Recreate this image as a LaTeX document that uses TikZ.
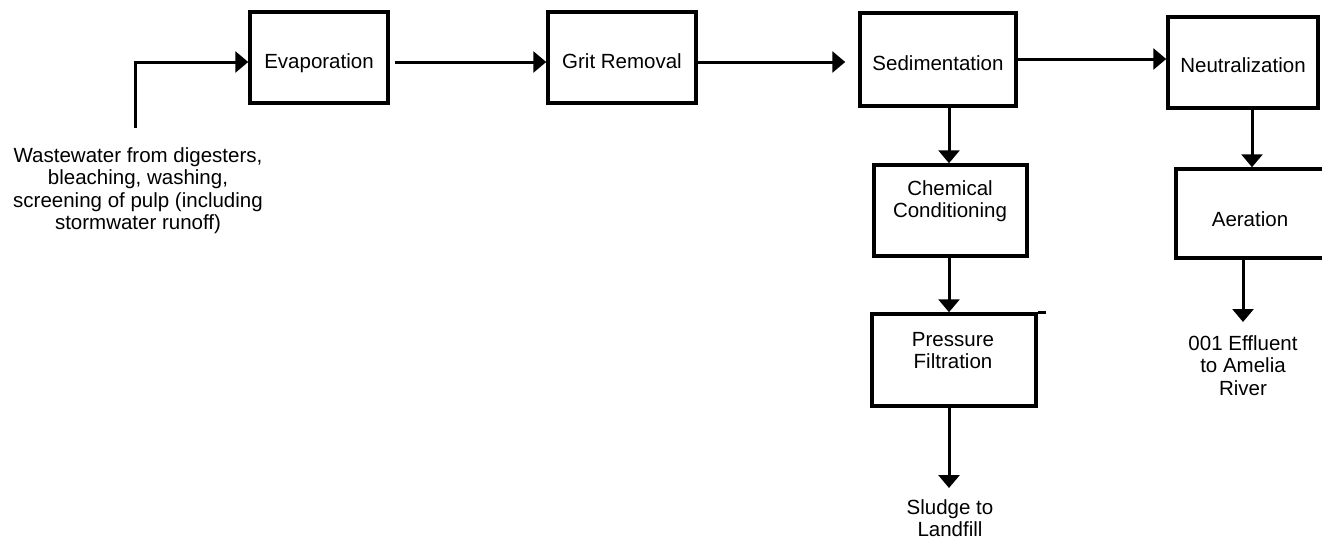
\documentclass[tikz,border=0pt]{standalone}
\usepackage{fontspec}
\setmainfont{Liberation Sans}
\usetikzlibrary{arrows.meta}
\begin{document}
\begin{tikzpicture}[x=1pt,y=-1pt,
  box/.style={draw, line width=3.5pt, rectangle, inner sep=0pt},
  lbl/.style={font=\fontsize{20.5}{22.5}\selectfont, inner sep=0pt, align=center},
  flow/.style={line width=3pt, -{Triangle[length=13pt,width=21pt]}},
]
\useasboundingbox (0,0) rectangle (1322,541);

% process boxes
\node[box, minimum width=138pt, minimum height=91pt] (evap)  at (319,57.5)  {};
\node[box, minimum width=148pt, minimum height=91pt] (grit)  at (622,57.5)  {};
\node[box, minimum width=156pt, minimum height=93pt] (sed)   at (938,59.5)  {};
\node[box, minimum width=150pt, minimum height=91pt] (neut)  at (1243,62.5) {};
\node[box, minimum width=153pt, minimum height=91pt] (chem)  at (950.5,210.5) {};
\node[box, minimum width=164pt, minimum height=89pt] (aer)   at (1258,213.5) {};
\node[box, minimum width=164pt, minimum height=92pt] (press) at (954,360)   {};
\draw[line width=3.5pt] (press.north east) -- ++(8,0);

% box captions
\node[lbl, anchor=base]  (evapT)  at (319,68)  {Evaporation};
\node[lbl, anchor=base]  (gritT)  at (622,68)  {Grit Removal};
\node[lbl, anchor=base]  (sedT)   at (938,70)  {Sedimentation};
\node[lbl, anchor=base]  (neutT)  at (1243,72) {Neutralization};
\node[lbl, anchor=north] (chemT)  at (950,180) {Chemical\\Conditioning};
\node[lbl, anchor=base]  (aerT)   at (1250,226) {Aeration};
\node[lbl, anchor=north] (pressT) at (953,332) {Pressure\\Filtration};

% inflow and outflow texts
\node[lbl, anchor=north] (inflow) at (138,147)
  {Wastewater from digesters,\\bleaching, washing,\\screening of pulp (including\\stormwater runoff)};
\node[lbl, anchor=north] (sludge) at (950,499) {Sludge to\\Landfill};
\node[lbl, anchor=north] (eff)    at (1243,335) {001 Effluent\\to Amelia\\River};

% reference points for connector levels and columns
\coordinate (src)       at (135,128);
\coordinate (lvlA)      at (0,62);
\coordinate (lvlB)      at (0,59);
\coordinate (colS)      at (949,0);
\coordinate (colN)      at (1252,0);
\coordinate (sludgetip) at (949,488);
\coordinate (efftip)    at (1243,322);

% connectors
\draw[flow] (src) |- (evap.west |- lvlA);
\draw[flow, shorten <=5pt] (evap.east |- lvlA) -- (grit.west |- lvlA);
\draw[flow, shorten >=13pt] (grit.east |- lvlA) -- (sed.west |- lvlA);
\draw[flow] (sed.east |- lvlB) -- (neut.west |- lvlB);
\draw[flow] (sed.south -| colS) -- (chem.north -| colS);
\draw[flow] (chem.south -| colS) -- (press.north -| colS);
\draw[flow] (press.south -| colS) -- (sludgetip);
\draw[flow] (neut.south -| colN) -- (aer.north -| colN);
\draw[flow] (aer.south -| efftip) -- (efftip);
\end{tikzpicture}
\end{document}
